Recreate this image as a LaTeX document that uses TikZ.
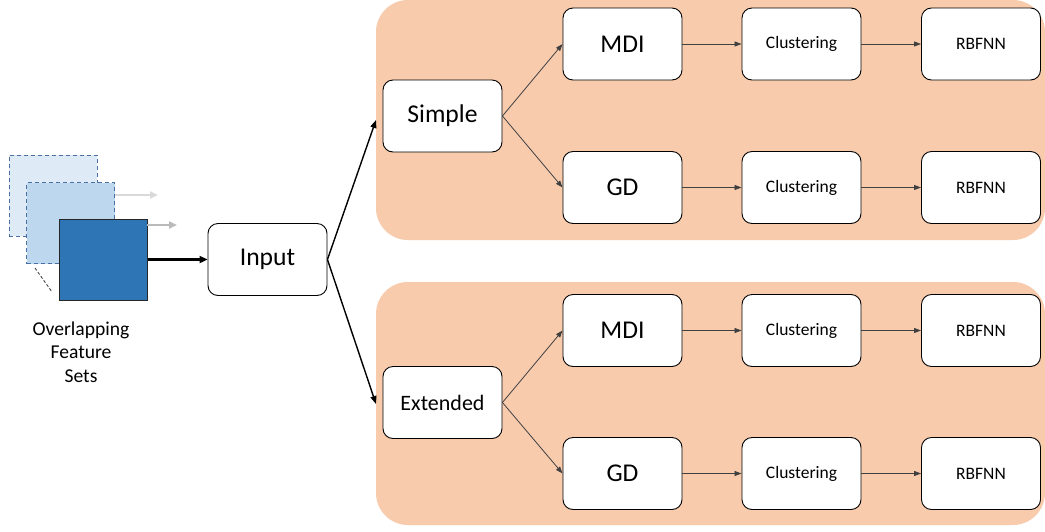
\documentclass[tikz,border=0pt]{standalone}
\usepackage{fontspec}
\setmainfont{Carlito}
\usetikzlibrary{arrows.meta}
\definecolor{panelc}{HTML}{F8CBAD}
\definecolor{sqback}{HTML}{DEEBF7}
\definecolor{sqmid}{HTML}{BDD7EE}
\definecolor{sqfront}{HTML}{2E75B6}
\definecolor{sqedge}{HTML}{4A6FA5}
\definecolor{thinline}{HTML}{404040}
\begin{document}
\begin{tikzpicture}[x=1pt,y=-1pt,
  panelbox/.style={fill=panelc, draw=none, rounded corners=32pt, inner sep=0pt},
  box/.style={draw=black, fill=white, rounded corners=10pt, line width=0.9pt, inner sep=0pt, minimum width=119pt, minimum height=72pt},
  bigtxt/.style={font=\fontsize{25.6}{30}\selectfont},
  midtxt/.style={font=\fontsize{22}{26}\selectfont},
  smalltxt/.style={font=\fontsize{17.5}{21}\selectfont},
  thinarrow/.style={draw=thinline, line width=0.8pt, -{Triangle[length=7pt,width=5pt]}},
  medarrow/.style={draw=black, line width=1.4pt, -{Triangle[length=8pt,width=6pt]}},
  thickarrow/.style={draw=black, line width=2.2pt, -{Triangle[length=8pt,width=7pt]}},
  grayarrow/.style={line width=2pt, -{Triangle[length=8pt,width=7pt]}},
  sheet/.style={minimum width=88pt, minimum height=81pt, inner sep=0pt},
]
\useasboundingbox (0,0) rectangle (1045,531);

% panels
\node[panelbox, minimum width=669pt, minimum height=240pt] (topPanel) at (710.5,120) {};
\node[panelbox, minimum width=669pt, minimum height=243pt] (botPanel) at (710.5,403.5) {};

% stacked feature sets
\node[sheet, fill=sqback, draw=sqedge, dashed, dash pattern=on 4pt off 3pt, line width=0.9pt] (sheetA) at (53,195.5) {};
\node[sheet, fill=sqmid, draw=sqedge, dashed, dash pattern=on 4pt off 3pt, line width=0.9pt] (sheetB) at (70.5,223) {};
\coordinate (grayA) at (158,195);
\coordinate (grayBs) at (147,225);
\coordinate (grayBe) at (177,225);
\draw[grayarrow, draw=black!15, fill=black!15] (sheetB.east |- grayA) -- (grayA);
\node[sheet, fill=sqfront, draw=black!85, line width=1pt] (sheetC) at (103,260) {};
\draw[grayarrow, draw=black!27] (grayBs) -- (grayBe);
\coordinate (dashS) at (35,268);
\coordinate (dashE) at (52,292);
\draw[black!80, dashed, dash pattern=on 3pt off 2pt, line width=0.8pt] (dashS) -- (dashE);
\node[align=center, font=\fontsize{19.6}{23.5}\selectfont] (label) at (81,352) {Overlapping\\Feature\\Sets};

% input
\node[box, bigtxt] (input) at (267.5,259.5) {Input};
\draw[thickarrow] (sheetC.east |- input) -- (input.west);

% level 1
\node[box, bigtxt] (simple) at (442.5,116) {Simple};
\node[box, midtxt] (extended) at (442.5,402.5) {Extended};
\coordinate (inTop) at (376,120);
\coordinate (inBot) at (376,404);
\draw[medarrow] (input.east) -- (inTop);
\draw[medarrow] (input.east) -- (inBot);

% top rows
\node[box, bigtxt] (mdiA) at (622.5,44) {MDI};
\node[box, bigtxt] (gdA) at (622.5,187.5) {GD};
\node[box, smalltxt] (clA) at (801.5,44) {Clustering};
\node[box, smalltxt] (clB) at (801.5,187.5) {Clustering};
\node[box, smalltxt] (rbA) at (981,44) {RBFNN};
\node[box, smalltxt] (rbB) at (981,187.5) {RBFNN};

\node[box, bigtxt] (mdiC) at (622.5,330.5) {MDI};
\node[box, bigtxt] (gdC) at (622.5,473.5) {GD};
\node[box, smalltxt] (clC) at (801.5,330.5) {Clustering};
\node[box, smalltxt] (clD) at (801.5,473.5) {Clustering};
\node[box, smalltxt] (rbC) at (981,330.5) {RBFNN};
\node[box, smalltxt] (rbD) at (981,473.5) {RBFNN};

\draw[thinarrow] (simple.east) -- (mdiA.west);
\draw[thinarrow] (simple.east) -- (gdA.west);
\draw[thinarrow] (extended.east) -- (mdiC.west);
\draw[thinarrow] (extended.east) -- (gdC.west);

\draw[thinarrow] (mdiA) -- (clA);
\draw[thinarrow] (clA) -- (rbA);
\draw[thinarrow] (gdA) -- (clB);
\draw[thinarrow] (clB) -- (rbB);
\draw[thinarrow] (mdiC) -- (clC);
\draw[thinarrow] (clC) -- (rbC);
\draw[thinarrow] (gdC) -- (clD);
\draw[thinarrow] (clD) -- (rbD);
\end{tikzpicture}
\end{document}
